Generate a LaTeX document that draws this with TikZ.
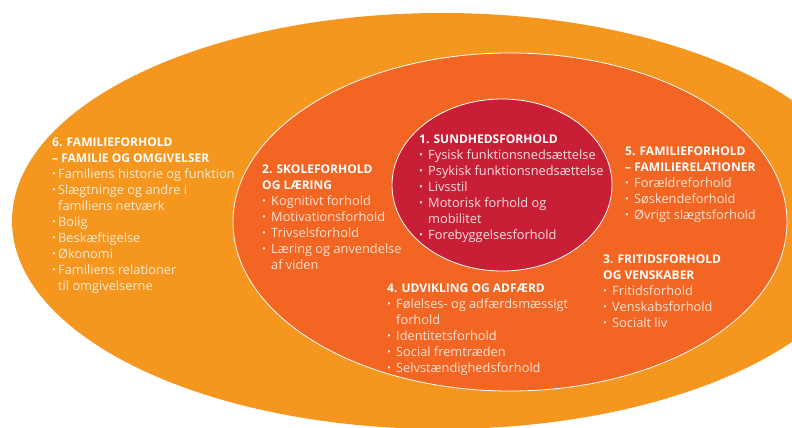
\documentclass[tikz,border=0pt]{standalone}
\usepackage{fontspec}
\setmainfont{Open Sans}
\usetikzlibrary{shapes.geometric}
\definecolor{outerc}{HTML}{F5971F}
\definecolor{midc}{HTML}{F26522}
\definecolor{innerc}{HTML}{C91F36}
\colorlet{ioutc}{white!80!outerc}
\colorlet{imidc}{white!82!midc}
\colorlet{iinc}{white!85!innerc}
\newcommand\bdot{\raisebox{0.15ex}{\scalebox{0.8}{•}}}
\newcommand\bA{\makebox[6pt][l]{\bdot}}
\newcommand\bB{\makebox[9pt][l]{\bdot}}
\newcommand\ttl[1]{\textcolor{white}{\fontsize{12}{16}\selectfont\bfseries #1}}
\tikzset{
  ring/.style={ellipse, inner sep=0pt, draw=white, line width=0.8pt},
  txt/.style={anchor=north west, inner sep=0pt, align=left,
    font=\fontsize{12.8}{16}\selectfont}
}
\begin{document}
\begin{tikzpicture}[x=1pt,y=-1pt]
\useasboundingbox (0,0) rectangle (792,428);
\clip (0,0) rectangle (792,428);
\node[ellipse, inner sep=0pt, fill=outerc, minimum width=860pt, minimum height=416pt] (outer) at (442,221) {};
\node[ring, fill=midc, minimum width=554pt, minimum height=338pt] (middle) at (510,222) {};
\node[ring, fill=innerc, minimum width=220pt, minimum height=172pt] (inner) at (502,185) {};

\node[txt, text=ioutc] (b6) at (52,138) {\ttl{6. FAMILIEFORHOLD}\\
\ttl{– FAMILIE OG OMGIVELSER}\\
\bA Familiens historie og funktion\\
\bA Slægtninge og andre i\\
\hspace*{6pt}familiens netværk\\
\bA Bolig\\
\bA Beskæftigelse\\
\bA Økonomi\\
\bA Familiens relationer\\
\hspace*{6pt}til omgivelserne};

\node[txt, text=imidc] (b2) at (262,165) {\ttl{2. SKOLEFORHOLD}\\
\ttl{OG LÆRING}\\
\bB Kognitivt forhold\\
\bB Motivationsforhold\\
\bB Trivselsforhold\\
\bB Læring og anvendelse\\
\hspace*{9pt}af viden};

\node[txt, text=iinc] (b1) at (419,135) {\ttl{1. SUNDHEDSFORHOLD}\\
\bB Fysisk funktionsnedsættelse\\
\bB Psykisk funktionsnedsættelse\\
\bB Livsstil\\
\bB Motorisk forhold og\\
\hspace*{9pt}mobilitet\\
\bB Forebyggelsesforhold};

\node[txt, text=imidc] (b5) at (625,147) {\ttl{5. FAMILIEFORHOLD}\\
\ttl{– FAMILIERELATIONER}\\
\bB Forældreforhold\\
\bB Søskendeforhold\\
\bB Øvrigt slægtsforhold};

\node[txt, text=imidc] (b3) at (603,255) {\ttl{3. FRITIDSFORHOLD}\\
\ttl{OG VENSKABER}\\
\bB Fritidsforhold\\
\bB Venskabsforhold\\
\bB Socialt liv};

\node[txt, text=imidc] (b4) at (387,284) {\ttl{4. UDVIKLING OG ADFÆRD}\\
\bB Følelses- og adfærdsmæssigt\\
\hspace*{9pt}forhold\\
\bB Identitetsforhold\\
\bB Social fremtræden\\
\bB Selvstændighedsforhold};
\end{tikzpicture}
\end{document}
